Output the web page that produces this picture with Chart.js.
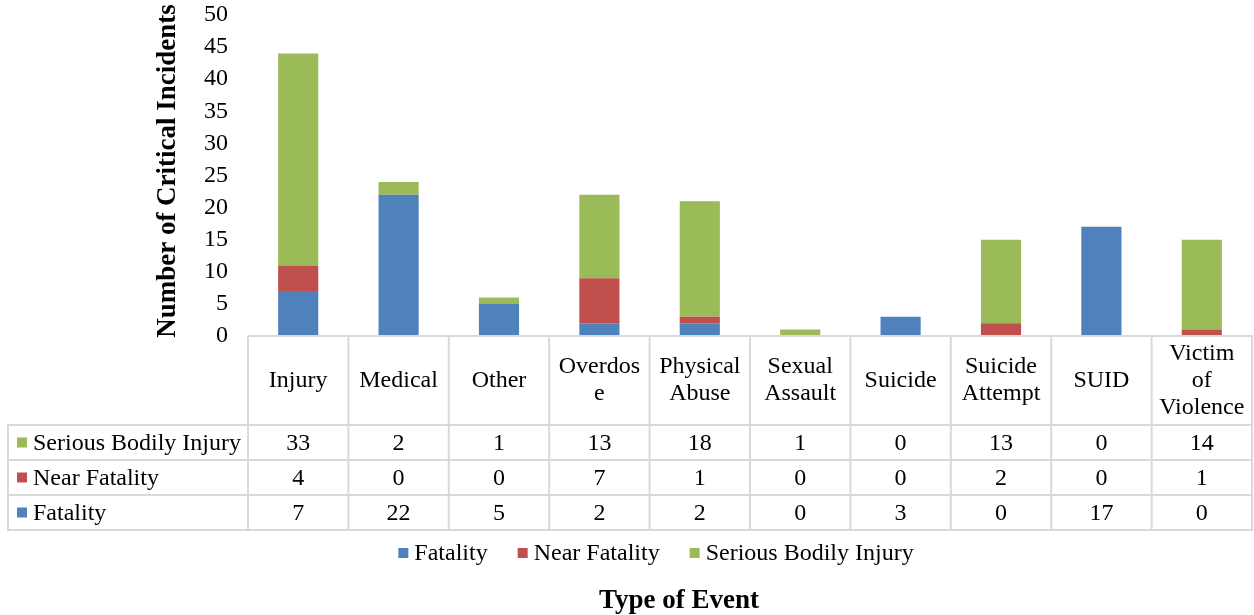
<!DOCTYPE html>
<html>
<head>
<meta charset="utf-8">
<script src="https://cdn.jsdelivr.net/npm/chart.js@4"></script>
<style>
  html, body { margin: 0; padding: 0; background: #fff; }
  #wrap { width: 1254px; height: 615px; }
</style>
</head>
<body>
<div id="wrap"><canvas id="myChart" width="1254" height="615"></canvas></div>
<script>
// category labels (line breaks as in the original table header)
const categories = [
    ['Injury'], ['Medical'], ['Other'], ['Overdos', 'e'], ['Physical', 'Abuse'],
    ['Sexual', 'Assault'], ['Suicide'], ['Suicide', 'Attempt'], ['SUID'], ['Victim', 'of', 'Violence']
];
const fatality = [7, 22, 5, 2, 2, 0, 3, 0, 17, 0];
const nearFatality = [4, 0, 0, 7, 1, 0, 0, 2, 0, 1];
const seriousInjury = [33, 2, 1, 13, 18, 1, 0, 13, 0, 14];
const yTicks = [0, 5, 10, 15, 20, 25, 30, 35, 40, 45, 50];

const serif = '"Liberation Serif", "Times New Roman", serif';
const gridColor = '#d9d9d9';

// draws the data table under the bars, the legend and the axis titles
const tablePlugin = {
    id: 'dataTable',
    afterDraw(chart) {
        const ctx = chart.ctx;
        const x = chart.scales.x;
        const area = chart.chartArea;
        const left = area.left, right = area.right;
        const colW = (right - left) / categories.length;
        const headTop = area.bottom;
        const headBottom = headTop + 89;
        const rowH = 35;
        const tableLeft = 8;
        const rows = [...chart.data.datasets].reverse();

        ctx.save();
        ctx.strokeStyle = gridColor;
        ctx.lineWidth = 2;
        ctx.beginPath();
        // top line of header
        ctx.moveTo(left, headTop); ctx.lineTo(right + 1, headTop);
        // row lines
        for (let r = 0; r <= rows.length; r++) {
            const y = headBottom + r * rowH;
            ctx.moveTo(tableLeft - 1, y); ctx.lineTo(right + 1, y);
        }
        // vertical lines
        for (let i = 0; i <= categories.length; i++) {
            const xx = left + i * colW;
            ctx.moveTo(xx, headTop); ctx.lineTo(xx, headBottom + rows.length * rowH);
        }
        ctx.moveTo(tableLeft, headBottom); ctx.lineTo(tableLeft, headBottom + rows.length * rowH);
        ctx.stroke();

        ctx.fillStyle = '#000';
        ctx.font = '24px ' + serif;
        ctx.textAlign = 'center';
        ctx.textBaseline = 'middle';
        const lh = 27;
        categories.forEach((lines, i) => {
            const cx = x.getPixelForValue(i);
            const cy = (headTop + headBottom) / 2;
            lines.forEach((t, k) => {
                ctx.fillText(t, cx, cy + (k - (lines.length - 1) / 2) * lh);
            });
        });

        rows.forEach((ds, r) => {
            const cy = headBottom + r * rowH + rowH / 2;
            ctx.fillStyle = ds.backgroundColor;
            ctx.fillRect(17, cy - 5, 10, 10);
            ctx.fillStyle = '#000';
            ctx.textAlign = 'left';
            ctx.fillText(ds.label, 33, cy + 1);
            ctx.textAlign = 'center';
            ds.data.forEach((v, i) => {
                ctx.fillText(String(v), x.getPixelForValue(i), cy + 1);
            });
        });

        // legend
        const legendY = 553;
        const items = chart.data.datasets.map(ds => ({ label: ds.label, color: ds.backgroundColor, w: ctx.measureText(ds.label).width }));
        const gap = 30;
        const total = items.reduce((s, it) => s + 16 + it.w, 0) + gap * (items.length - 1);
        let lx = 656 - total / 2;
        ctx.textAlign = 'left';
        items.forEach(it => {
            ctx.fillStyle = it.color;
            ctx.fillRect(lx, legendY - 5, 10, 10);
            ctx.fillStyle = '#000';
            ctx.fillText(it.label, lx + 16, legendY + 1);
            lx += 16 + it.w + gap;
        });

        // axis titles
        ctx.font = 'bold 27px ' + serif;
        ctx.textAlign = 'center';
        ctx.fillText('Type of Event', 679, 601);
        ctx.translate(168, 171);
        ctx.rotate(-Math.PI / 2);
        ctx.fillText('Number of Critical Incidents', 0, 0);
        ctx.restore();
    }
};

const ctx = document.getElementById('myChart').getContext('2d');
const myChart = new Chart(ctx, {
    type: 'bar',
    data: {
        labels: categories.map(l => l.join(' ')),
        datasets: [
            { label: 'Fatality', data: fatality, backgroundColor: '#4F81BD' },
            { label: 'Near Fatality', data: nearFatality, backgroundColor: '#C0504D' },
            { label: 'Serious Bodily Injury', data: seriousInjury, backgroundColor: '#9BBB59' }
        ]
    },
    options: {
        responsive: false,
        animation: false,
        layout: { padding: { left: 0, right: 2, top: 15, bottom: 279 } },
        plugins: { legend: { display: false }, tooltip: { enabled: false } },
        datasets: { bar: { categoryPercentage: 1, barPercentage: 0.4 } },
        scales: {
            x: { stacked: true, display: false },
            y: {
                stacked: true,
                min: 0,
                max: 50,
                afterBuildTicks: s => { s.ticks = yTicks.map(v => ({ value: v })); },
                afterFit: s => { s.width = 248; s.paddingTop = 0; s.paddingBottom = 0; },
                grid: { display: false },
                border: { display: false },
                ticks: { color: '#000', padding: 12, font: { family: serif, size: 24 } }
            }
        }
    },
    plugins: [tablePlugin]
});
</script>
</body>
</html>
